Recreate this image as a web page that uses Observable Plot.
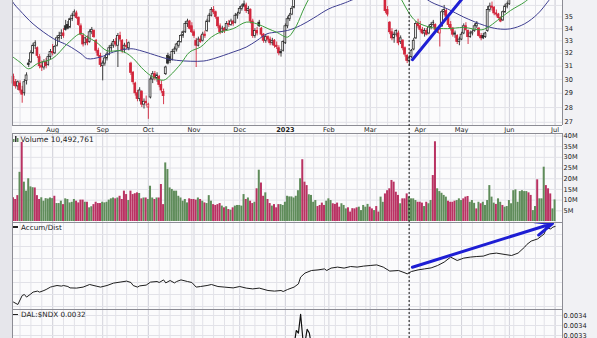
<!DOCTYPE html>
<html><head><meta charset="utf-8">
<script src="https://cdn.jsdelivr.net/npm/d3@7"></script>
<script src="https://cdn.jsdelivr.net/npm/@observablehq/plot@0.6"></script>
<style>
html,body{margin:0;padding:0;background:#fff;}
#chart{position:relative;width:597px;height:338px;overflow:hidden;background:#fbfbfc;font-family:"DejaVu Sans",sans-serif;}
#chart svg{position:absolute;left:0;}
.strip{position:absolute;top:0;height:338px;}
.mk{position:absolute;background:#222;}
</style></head><body><div id="chart"></div>
<script>
// ---------- DATA ----------
const startDate = "2022-07-06";
const holidays = ["2022-09-05","2022-11-24","2022-12-26","2023-01-02","2023-01-16","2023-02-20","2023-04-07","2023-05-29","2023-06-19"];
const N = 250;
// daily candles "open high low close" (null = above the visible part of the chart)
const ohlc = [
"30.2 30.4 29.5 29.7","29.8 30.0 29.3 29.5","29.5 29.9 29.2 29.8","29.7 29.9 29.0 29.2","29.2 29.5 28.3 28.9",
"29.0 30.0 28.8 29.8","29.9 30.5 29.6 30.3","31.2 31.5 30.9 31.1","31.3 32.2 31.2 32.0","32.0 32.8 31.9 32.6",
"32.6 33.0 32.3 32.8","32.4 32.5 31.6 31.8","31.7 31.9 30.8 31.0","31.0 31.4 30.6 30.9","30.9 31.5 30.7 31.3",
"31.3 31.6 30.8 31.0","31.1 31.9 31.0 31.7","31.7 32.3 31.5 32.1","32.1 32.7 31.8 32.0","32.0 32.6 31.9 32.5",
"32.6 33.4 32.5 33.2","33.2 33.7 32.9 33.4","33.4 33.9 33.1 33.6","33.6 34.0 33.2 33.4","34.2 34.7 33.8 33.9",
"34.3 34.6 33.9 34.0","34.1 34.9 34.0 34.8","34.8 35.3 34.6 35.1","35.1 35.6 35.0 35.4","35.3 35.5 34.8 34.9",
"34.9 35.0 34.2 34.3","34.2 34.4 33.4 33.5","33.4 33.6 32.5 32.7","32.8 33.3 32.6 33.2","33.1 33.4 32.6 32.8",
"32.9 33.9 32.8 33.7","33.7 34.1 33.5 33.9","33.8 33.9 33.2 33.3","33.0 33.1 32.0 32.2","32.2 32.4 31.6 31.8",
"31.8 32.0 30.9 31.1","31.0 31.4 29.9 31.2","31.2 31.8 31.0 31.6","31.6 32.1 31.4 31.9","31.9 32.6 31.8 32.4",
"32.4 32.8 32.1 32.6","32.6 33.1 32.4 32.9","32.9 33.2 32.5 32.7","32.6 33.6 30.9 33.4","33.4 33.7 32.9 33.1",
"33.0 33.1 32.0 32.2","32.3 32.8 32.0 32.6","32.6 33.1 32.3 32.5","32.4 32.9 32.2 32.8","31.2 31.3 30.3 30.5",
"30.5 30.6 29.6 29.8","29.7 29.8 28.8 29.0","29.0 29.2 28.4 28.6","28.6 29.4 28.4 29.2","29.1 29.2 28.0 28.2",
"28.2 28.6 27.9 28.4","28.4 28.8 28.1 28.3","28.0 28.3 27.2 28.2","28.7 30.2 28.6 30.0","30.0 30.6 29.7 30.4",
"30.4 30.6 29.9 30.1","30.1 30.5 29.8 30.3","30.2 30.3 29.4 29.6","29.6 29.9 29.0 29.2","29.1 29.3 28.2 28.8",
"30.4 31.0 30.3 30.9","31.8 32.0 31.1 31.2","31.7 31.9 31.2 31.4","31.5 32.3 31.4 32.1","32.1 32.5 31.9 32.3",
"32.3 32.8 32.1 32.7","32.6 33.0 32.4 32.9","32.9 33.5 32.8 33.4","33.4 33.8 33.2 33.7","33.7 34.6 33.6 34.4",
"34.4 34.8 34.1 34.6","34.6 34.7 33.9 34.0","34.2 34.5 33.6 33.7","33.7 33.9 33.2 33.4","33.0 33.2 30.9 32.6",
"32.6 33.3 32.5 33.1","33.1 33.4 32.8 32.9","33.0 33.7 32.9 33.5","33.5 33.8 33.2 33.4","33.8 34.8 33.7 34.6",
"34.6 35.3 34.5 35.1","35.1 35.8 35.0 35.6","35.6 35.9 35.2 35.4","35.4 35.5 34.8 35.0","34.9 35.0 34.0 34.2",
"34.2 34.4 33.5 33.7","33.7 34.2 33.6 34.0","34.0 34.1 33.6 33.8","33.9 34.6 33.8 34.4","34.4 34.7 34.1 34.3",
"34.3 34.8 34.2 34.6","34.6 34.7 34.2 34.4","34.5 35.3 34.4 35.1","35.1 35.4 34.8 35.2","35.3 35.9 35.2 35.7",
"35.7 36.1 35.5 35.9","35.9 36.4 35.8 36.1","36.0 36.2 35.3 35.5","35.5 35.9 35.2 35.7","35.6 35.7 34.4 34.6",
"34.6 34.8 33.2 33.4","33.4 34.0 33.2 33.8","33.8 34.1 33.4 33.6","34.5 34.7 34.1 34.2","34.0 34.1 33.3 33.5",
"33.5 33.6 32.8 33.0","33.0 33.5 32.8 33.3","33.3 33.4 32.9 33.1","33.1 33.3 32.6 32.8","32.8 33.2 32.6 33.0",
"33.0 33.1 32.4 32.6","32.6 32.9 32.3 32.5","32.4 32.6 31.8 32.0","32.0 32.3 31.7 32.1","32.2 33.0 32.1 32.9",
"32.8 34.4 32.7 34.2","34.2 35.0 34.0 34.8","34.8 35.3 34.6 35.1","35.2 35.9 35.1 35.7","35.8 36.9 35.7 36.7",
null,null,null,null,null,null,null,null,null,null,
null,null,null,null,null,null,null,null,null,null,
null,null,null,null,null,null,null,null,null,null,
null,null,null,null,null,null,null,null,null,null,
null,
"36.6 36.7 35.3 35.5","35.6 35.9 35.0 35.2","34.5 34.6 33.5 33.7","33.7 34.0 33.0 33.2",
"33.2 33.7 32.8 33.5","33.5 33.9 33.3 33.8","33.6 33.8 32.6 32.8","32.9 33.4 32.7 33.2","33.0 33.1 32.2 32.4",
"32.4 32.5 31.7 31.9","31.8 31.9 31.2 31.4","31.4 31.8 31.0 31.6","31.7 32.3 31.6 32.2","32.3 33.2 32.2 33.0",
"33.2 34.6 33.1 34.4","34.4 34.8 34.0 34.2","34.2 34.6 33.7 33.9","33.9 34.1 33.5 33.6","33.6 34.0 33.3 33.8",
"33.8 34.0 33.4 33.5","33.6 34.3 33.5 34.1","34.1 34.5 33.9 34.3","34.3 34.7 34.1 34.5","34.3 34.4 33.8 33.9",
"33.9 34.1 33.6 34.0","33.6 34.0 32.5 33.9","34.2 35.6 34.1 35.4","35.4 36.0 35.1 35.6","35.5 35.7 34.8 35.0",
"34.9 35.0 34.1 34.3","34.3 34.6 33.8 34.0","34.0 34.1 33.3 33.5","33.5 33.8 33.2 33.6","33.4 33.5 32.7 32.9",
"32.9 33.3 32.6 33.1","33.1 33.7 33.0 33.5","33.6 34.4 33.5 34.2","34.2 34.5 33.8 33.9","33.8 33.9 32.7 33.3",
"33.3 33.8 33.2 33.6","33.6 33.9 33.4 33.7","33.8 34.4 33.7 34.2","34.2 34.6 34.0 34.4","34.0 34.1 33.3 33.4",
"33.4 33.6 33.0 33.2","33.4 33.6 33.1 33.2","33.3 33.7 33.2 33.6","33.8 35.9 33.7 35.6","35.6 36.2 35.4 35.9",
"35.9 36.3 35.5 35.8","35.8 35.9 35.1 35.3","35.3 35.6 35.0 35.2","35.2 35.3 34.8 34.9","34.9 35.0 34.5 34.6",
"34.7 35.5 34.6 35.4","35.4 36.1 35.3 35.9","35.9 36.3 35.7 36.1","36.1 36.8 36.0 36.6",
null,null,null,null,null,null,null,null,null,null,
null,null,null,null,null,null,null,null,null,null,null
];
// daily volume, millions of shares
const volume = [
11.1,10.3,12.1,23,37,18.4,14.2,20,16.2,15.8,
15.7,12.1,10.3,11.1,9.5,10.7,10.5,11,10.7,11.8,
8.4,8.4,9.5,7.9,10.6,10.3,8.7,9,10.3,9.5,
8.7,10,10,9,9,6.4,6.9,7.9,9,8.4,
8.4,9,8.7,9,10,10.6,11,10.6,11,11.8,
10.3,14.2,12.6,9.8,14.2,12.6,13,13.4,13.1,10.6,
11,11,10.3,16.5,11,10.3,11,11,17.3,7.9,
27.4,24.3,15.7,15,14.2,14.2,11.8,11,9.5,10.3,
8.7,10.6,10.3,10.3,10,11,10.3,9.5,8.7,8.4,
12.1,9.5,7.9,7.5,7.9,8.4,7.2,6.4,6.9,5.6,
5.3,6.4,7.2,7.5,7.5,7.2,12.6,10.3,11,9.5,
8.4,9,15.3,24,18,11.8,13.4,10.3,8.4,7.2,
7.9,6.4,7.9,7.9,7.5,9,11.8,11.5,11.5,11,
11.8,14.4,20,28.9,18.4,16.8,12.5,12.2,9,9.8,
7,7.5,8.6,7.5,9.5,10.6,9.8,8.3,8,8.6,
6.7,8.3,7.5,5.9,6.4,4.4,6,5.9,6.4,6.7,
5.1,7.5,6.7,8,6.7,5.9,5.1,7,4.4,11.4,
9,12.9,14.4,15.3,19.2,18.4,13.7,12.2,8.3,10.6,
10.6,12.9,11.5,10.6,10.6,9.8,9,9,8.6,7,
9,8.3,9.8,21.5,37.3,15.3,14,13.2,12.2,11.4,
9.5,9,9,9.5,9.8,10.6,9.8,10.6,11.4,11.7,
9,9.8,8.5,5.9,9,8.3,9,7.5,9.8,16.8,
11.4,8.6,8,10.6,9,7.5,6.7,7,9.8,8.3,
14.4,14.8,9,14,14.4,14,14,13.4,12.2,5.1,
7,19.5,10.6,10.6,25.4,16.8,15.3,12.9,5.9,10.1
];
// volume bar direction: g = up day, r = down day
const volumeDir = [
"rrrgrggggg","rrrggggggr","gggrgggggr","rrrgrggrrr","rggggggrgr",
"rrrgrrrrgr","grgggrgrrr","gggggggggg","grrrrgrgrg","ggrrrrgrgr",
"grgggggrgr","rgrgrrgrrg","rrrggggggg","gggrrrgggg","rrrrgggrrr",
"rgggrrrrrg","ggggrrgrrg","grrrrrrrgr","rrggggrrrg","rggrrggggg",
"rrrrgggrrr","gggrgrgggg","ggrggrgggg","gggggggrrg","grgggrrrgg"
].join("");
// moving averages [day index, price]
const fastMA_a = [[-1,31.8],[3,31.3],[7,30.8],[11,31.2],[18,31.6],[25,32.8],[31,33.6],[34,33.3],[38,32.9],[43,32.2],[49,32.2],[52,32.0],[55,31.6],[60,30.7],[64,30.2],[69,29.95],[72,30.3],[77,31.2],[81,32.1],[86,32.5],[91,33.3],[95,33.7],[101,34.0],[107,34.55],[112,34.4],[117,34.0],[121,33.7],[126,33.3],[129,33.9],[131,34.6],[133,35.5],[135,36.3],[137,37.0]];
const fastMA_b = [[177,37.0],[179,36.3],[181,35.6],[183.5,34.9],[186,34.5],[192,34.1],[199.5,34.0],[207,34.1],[215,33.9],[218,34.1],[222.5,34.7],[228.5,35.55],[235,36.3],[238,36.8]];
const slowMA_a = [[-2,37.0],[0,36.2],[3,35.55],[9,34.4],[18.5,33.16],[25,32.63],[31,31.97],[34,31.58],[40,31.71],[46,32.1],[54,32.36],[58,32.23],[63,31.97],[70.5,31.58],[75,31.45],[81.5,31.38],[87.5,31.4],[92,31.58],[101,32.1],[107,32.49],[112,33.03],[116.5,33.57],[121,33.71],[126,33.85],[132,34.27],[138,34.9],[145,35.7],[152,36.2],[157,36.6]];
const slowMA_b = [[187,37.0],[192,36.3],[199.5,35.7],[207,34.98],[216.5,34.27],[222.5,33.99],[228.5,33.99],[235,34.41],[241,35.26],[245.5,36.29],[247.5,36.8]];
// accumulation / distribution line [day index, value]
const accumDist = [[0,-158],[2,-170],[4,-125],[5,-120],[6,-133],[8,-117],[9,-108],[11,-103],[12,-108],[14,-100],[15,-95],[17,-83],[18,-80],[20,-75],[22,-78],[23,-75],[25,-80],[26,-87],[29,-88],[32,-83],[35,-70],[38,-78],[40,-83],[43,-75],[46,-63],[49,-58],[52,-53],[54,-60],[55,-75],[57,-83],[58,-77],[61,-73],[63,-58],[66,-55],[67,-60],[69,-47],[70,-62],[72,-50],[74,-62],[75,-55],[77,-47],[80,-55],[82,-60],[84,-83],[86,-80],[89,-75],[91,-70],[94,-80],[97,-83],[101,-87],[104,-80],[107,-88],[110,-92],[113,-88],[117,-100],[120,-103],[123,-100],[124,-105],[126,-95],[129,-83],[131,-67],[132,-33],[134,-13],[137,0],[140,3],[143,8],[144,0],[146,12],[149,17],[152,12],[155,20],[158,17],[161,22],[164,25],[167,28],[170,17],[173,-3],[177,0],[180,-12],[181,-17],[183,-5],[186,3],[189,8],[192,13],[195,25],[198,42],[201,67],[204,50],[207,62],[210,67],[213,70],[216,72],[219,83],[222,87],[226,80],[229,75],[232,87],[235,117],[236,130],[238,147],[241,158],[244,183],[245,213],[247,208],[248,217],[249,220]];
// DAL:$NDX relative strength [day index, ratio]
const ratio = [[127,0.0032],[129,0.00330],[130,0.00336],[131,0.00335],[132,0.003425],[133,0.00333],[134,0.00331],[135,0.003365],[136,0.00335],[137,0.00330],[139,0.0032]];
// annotations
const trendPrice = [[183.4,31.5],[210,37.5]];
const trendAD = {x1:183.4, y1:16.5, x2:247.8, y2:235};
const markerDay = [181.9];
const priceTicks = [27,28,29,30,31,32,33,34,35,36];
const volumeTicks = [5,10,15,20,25,30,35,40];
const adGrid = [-180,-120,-60,0,60,120,180];
const ratioTicks = [0.00342,0.00338,0.00334];
const monthNames = ["Jan","Feb","Mar","Apr","May","Jun","Jul","Aug","Sep","Oct","Nov","Dec"];

// ---------- BUILD ----------
function tradingDays(start, n, hol) {
  const hs = new Set(hol), out = [];
  const d = new Date(start + "T12:00:00Z");
  while (out.length < n) {
    const wd = d.getUTCDay(), s = d.toISOString().slice(0,10);
    if (wd !== 0 && wd !== 6 && !hs.has(s)) out.push(new Date(d));
    d.setUTCDate(d.getUTCDate() + 1);
  }
  return out;
}
const dates = tradingDays(startDate, N, holidays);
const monthTicks = [], weekTicks = [];
for (let i = 1; i < N; i++) {
  if (dates[i].getUTCMonth() !== dates[i-1].getUTCMonth()) {
    const m = dates[i].getUTCMonth();
    monthTicks.push({i, label: m === 0 ? String(dates[i].getUTCFullYear()) : monthNames[m], bold: m === 0});
  }
  if (dates[i].getUTCDay() < dates[i-1].getUTCDay()) weekTicks.push(i);
}

const RED = "#d2263c", BLK = "#2b2b2b", VG = "#5f8c5a", VR = "#b93262";
const FAST = "#3c9c3c", SLOW = "#3e3e90", BLUE = "#1e1ed4";
const GRID = "#e2e2e8", GRIDM = "#d4d4dc", BORDER = "#8c8c94", PANEL = "#fbfbfc";
const W = 597, ML = 12, MR = 35;
const xDom = [-0.46, 252.41];
const FONT = "DejaVu Sans, sans-serif";

const candles = [];
let prev = null;
ohlc.forEach((s, i) => {
  if (s == null) { prev = null; return; }
  const [o,h,l,c] = s.split(" ").map(Number);
  const ref = prev == null ? o : prev;
  const col = c < ref ? RED : BLK;
  candles.push({i, o, h, l, c, col, fill: c > o ? "#ffffff" : col});
  prev = c;
});
const vol = volume.map((v, i) => ({i, v, col: volumeDir[i] === "r" ? VR : VG}));

const vgrid = () => [
  Plot.ruleX(weekTicks, {stroke: GRID, strokeWidth: 1}),
  Plot.ruleX(monthTicks, {x: "i", stroke: GRIDM, strokeWidth: 1})
];
const base = (h, mb) => ({
  width: W, height: h, marginLeft: ML, marginRight: MR, marginTop: 0, marginBottom: mb,
  x: {domain: xDom, axis: null},
  color: {type: "identity"},
  style: {background: "transparent", fontFamily: FONT, fontSize: "6.6px", color: "#222"}
});
const pxy = {x: d => d[0], y: d => d[1]};

const chart = document.getElementById("chart");
function place(svg, top) { svg.style.top = top + "px"; chart.appendChild(svg); }

// left strip and right label column backgrounds
const ls = document.createElement("div"); ls.className = "strip"; ls.style.cssText += "left:0;width:12px;background:#e6e6eb;"; chart.appendChild(ls);
const rs = document.createElement("div"); rs.className = "strip"; rs.style.cssText += "left:563px;width:34px;background:#f1f1f4;"; chart.appendChild(rs);

// PRICE
const pDom = [26.79, 36.44];
place(Plot.plot({
  ...base(133, 8),
  y: {type: "log", domain: pDom},
  marks: [
    Plot.frame({fill: PANEL, stroke: null}),
    ...vgrid(),
    Plot.ruleY(priceTicks, {stroke: GRID}),
    Plot.ruleX(candles, {x: "i", y1: "l", y2: "h", stroke: "col", strokeWidth: 0.9}),
    Plot.rect(candles, {x1: d => d.i - 0.42, x2: d => d.i + 0.42, y1: "o", y2: "c", fill: "fill", stroke: "col", strokeWidth: 0.8}),
    Plot.line(slowMA_a, {...pxy, stroke: SLOW, strokeWidth: 1, curve: "catmull-rom", clip: true}),
    Plot.line(slowMA_b, {...pxy, stroke: SLOW, strokeWidth: 1, curve: "catmull-rom", clip: true}),
    Plot.line(fastMA_a, {...pxy, stroke: FAST, strokeWidth: 1, curve: "catmull-rom", clip: true}),
    Plot.line(fastMA_b, {...pxy, stroke: FAST, strokeWidth: 1, curve: "catmull-rom", clip: true}),
    Plot.line(trendPrice, {...pxy, stroke: BLUE, strokeWidth: 3, clip: true}),
    Plot.ruleX(xDom, {stroke: BORDER}),
    Plot.ruleY([pDom[0]], {stroke: BORDER}),
    Plot.axisY(priceTicks, {anchor: "right", tickSize: 0, tickPadding: 2, label: null, tickFormat: d => String(d)}),
    Plot.text(monthTicks.filter(d => !d.bold), {x: "i", text: "label", frameAnchor: "bottom", dy: 4.5, lineAnchor: "middle", fontSize: 6.6, fill: "#222"}),
    Plot.text(monthTicks.filter(d => d.bold), {x: "i", text: "label", frameAnchor: "bottom", dy: 4.5, lineAnchor: "middle", fontSize: 6.6, fontWeight: "bold", fill: "#222"})
  ]
}), 0);

// VOLUME
place(Plot.plot({
  ...base(90, 1),
  y: {domain: [-0.47, 41.17]},
  marks: [
    Plot.frame({fill: PANEL, stroke: null}),
    ...vgrid(),
    Plot.ruleY(volumeTicks, {stroke: GRID}),
    Plot.rect(vol, {x1: d => d.i - 0.46, x2: d => d.i + 0.46, y1: 0, y2: "v", fill: "col"}),
    Plot.frame({stroke: BORDER}),
    Plot.axisY(volumeTicks, {anchor: "right", tickSize: 0, tickPadding: 1, label: null, tickFormat: d => d + "M"}),
    Plot.text(["Volume 10,492,761"], {frameAnchor: "top-left", dx: 8, dy: 6.5, textAnchor: "start", lineAnchor: "middle", fontSize: 7.5, fill: "#222"})
  ]
}), 133);

// ACCUM / DIST
place(Plot.plot({
  ...base(88, 1),
  y: {domain: [-195, 240], axis: null},
  marks: [
    Plot.frame({fill: PANEL, stroke: null}),
    ...vgrid(),
    Plot.ruleY(adGrid, {stroke: GRID}),
    Plot.line(accumDist, {...pxy, stroke: "#1e1e1e", strokeWidth: 1}),
    Plot.arrow([trendAD], {x1: "x1", y1: "y1", x2: "x2", y2: "y2", stroke: BLUE, strokeWidth: 3, headLength: 9, headAngle: 45}),
    Plot.frame({stroke: BORDER}),
    Plot.text(["Accum/Dist"], {frameAnchor: "top-left", dx: 8.5, dy: 4.7, textAnchor: "start", lineAnchor: "middle", fontSize: 7.2, fill: "#222"})
  ]
}), 222);

// DAL:$NDX
place(Plot.plot({
  ...base(29, 0),
  y: {domain: [0.003328, 0.003444]},
  marks: [
    Plot.frame({fill: PANEL, stroke: null}),
    ...vgrid(),
    Plot.ruleY(ratioTicks, {stroke: GRID}),
    Plot.line(ratio, {...pxy, stroke: "#111", strokeWidth: 1.2, clip: true}),
    Plot.frame({stroke: BORDER}),
    Plot.axisY(ratioTicks, {anchor: "right", tickSize: 0, tickPadding: 1, label: null, tickFormat: d => d.toFixed(4)}),
    Plot.text(["DAL:$NDX 0.0032"], {frameAnchor: "top-left", dx: 8.5, dy: 5.3, textAnchor: "start", lineAnchor: "middle", fontSize: 7.2, fill: "#222"})
  ]
}), 309);

// vertical dashed marker across all panels
place(Plot.plot({
  ...base(338, 0),
  marks: [Plot.ruleX(markerDay, {stroke: "#111", strokeDasharray: "2,2", strokeWidth: 1})]
}), 0);

// small legend glyphs
const icon = document.createElementNS("http://www.w3.org/2000/svg", "svg");
icon.setAttribute("width", "6"); icon.setAttribute("height", "6");
icon.style.cssText = "position:absolute;left:13px;top:136px;";
icon.innerHTML = '<rect x="0" y="3" width="1.5" height="3" fill="#5f8c5a"/><rect x="2" y="0" width="1.5" height="6" fill="#333"/><rect x="4" y="2" width="1.5" height="4" fill="#5f8c5a"/>';
chart.appendChild(icon);
[226, 313.6].forEach(t => { const m = document.createElement("div"); m.className = "mk"; m.style.cssText += `left:13px;top:${t}px;width:4.5px;height:1.5px;`; chart.appendChild(m); });
</script></body></html>
